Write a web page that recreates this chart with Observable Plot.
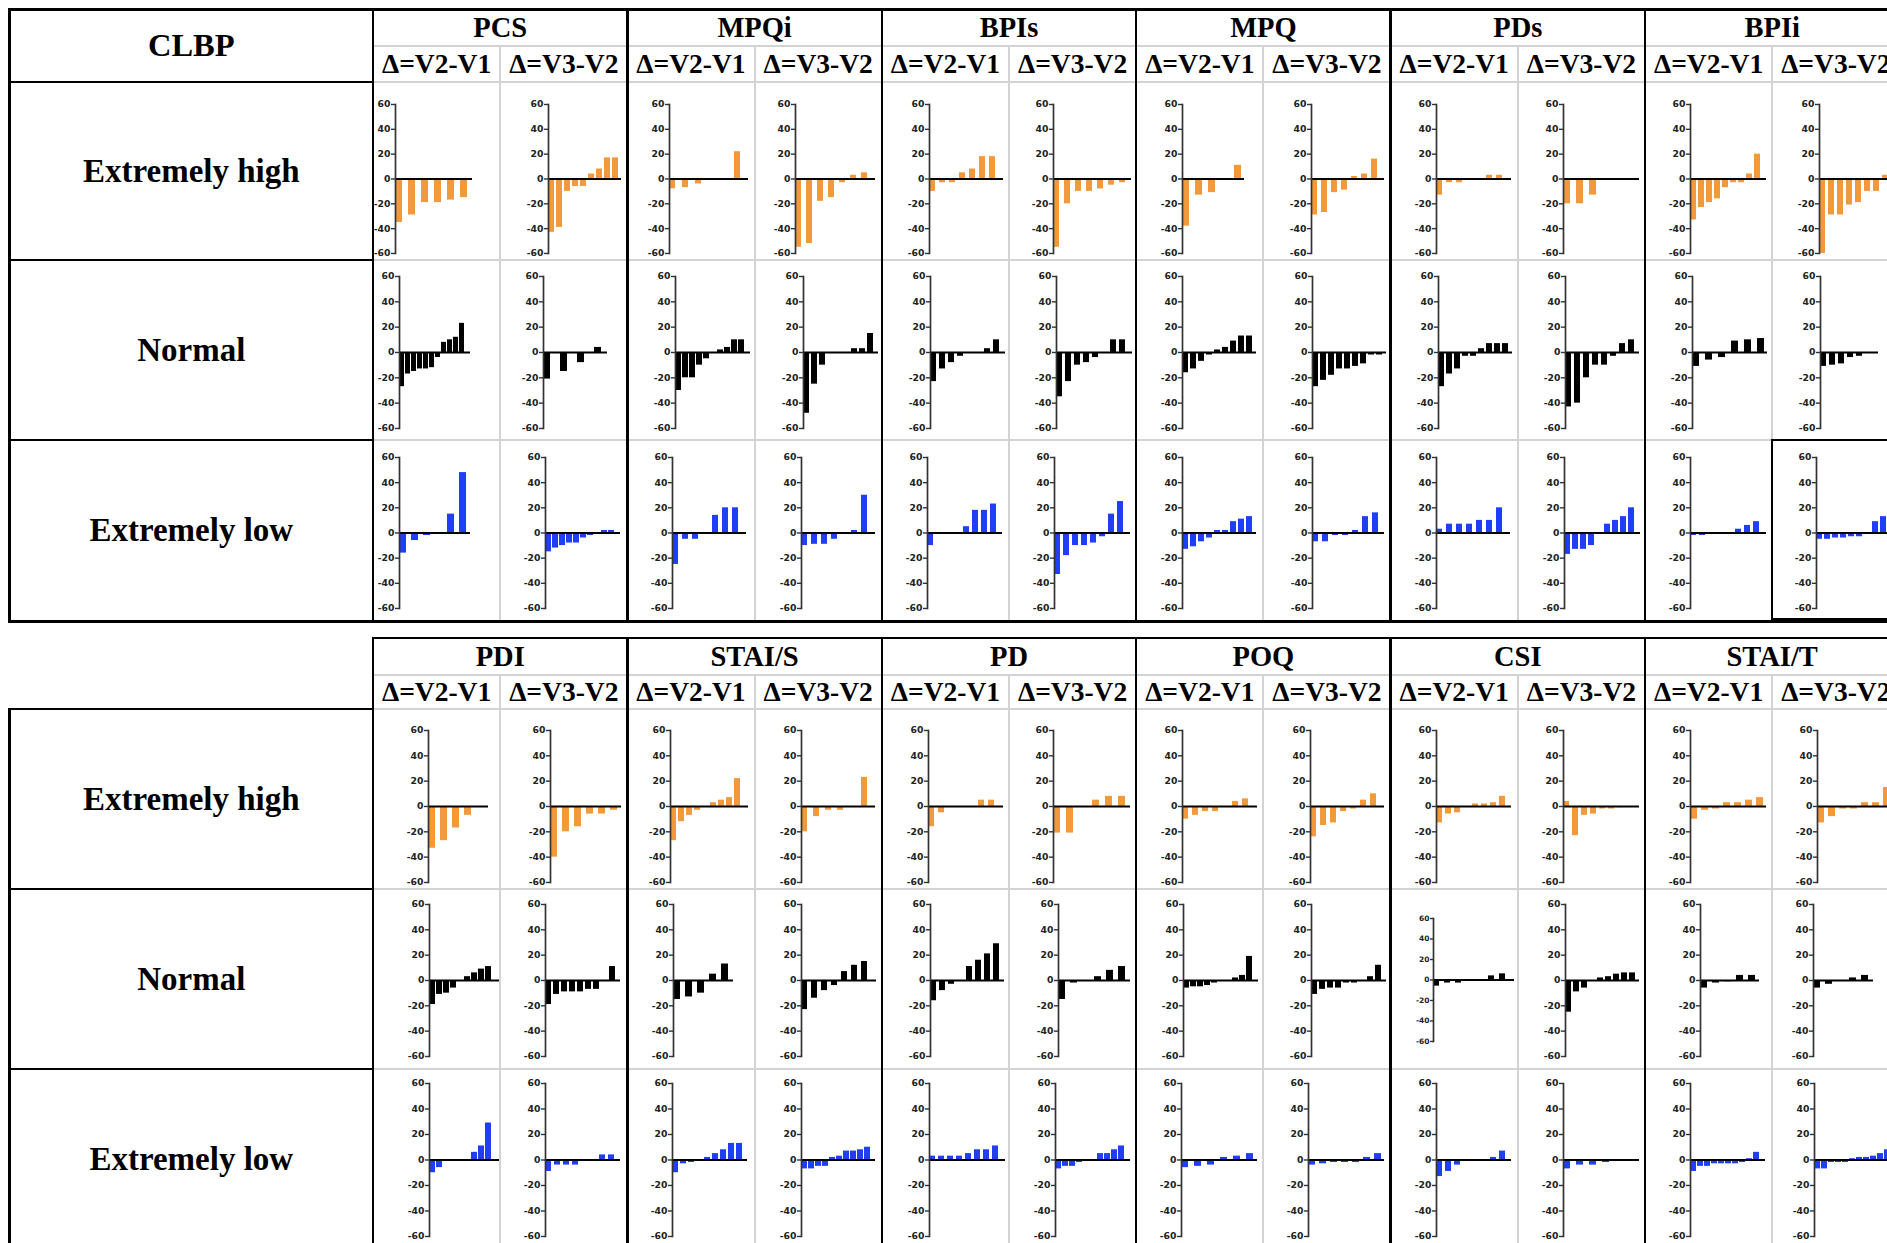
<!DOCTYPE html>
<html><head><meta charset="utf-8">
<script src="https://cdn.jsdelivr.net/npm/d3@7"></script>
<script src="https://cdn.jsdelivr.net/npm/@observablehq/plot@0.6"></script>
<style>
html,body{margin:0;padding:0;background:#fff;overflow:hidden;}
#root{position:relative;width:1887px;height:1243px;overflow:hidden;background:#fff;}
.ln{position:absolute;}
.txt{position:absolute;font-family:"Liberation Serif","Times New Roman",serif;font-weight:bold;color:#000;white-space:nowrap;display:flex;align-items:center;justify-content:center;}
.mini{position:absolute;overflow:visible;}
.mini svg{overflow:visible;}
</style></head><body><div id="root"></div>
<script>
// ---------------- DATA ----------------
const panelLabel = "CLBP";
const measuresTop = ["PCS","MPQi","BPIs","MPQ","PDs","BPIi"];
const measuresBottom = ["PDI","STAI/S","PD","POQ","CSI","STAI/T"];
const deltaLabels = ["Δ=V2-V1","Δ=V3-V2"];
const groupLabels = ["Extremely high","Normal","Extremely low"];
const groupColors = ["#F29A3B","#000000","#1F3EF6"];
const yTicks = [60,40,20,0,-20,-40,-60];

// each: [Δ=V2-V1 values, Δ=V3-V2 values]
const PCS_high   = [[-35,-29,-19,-19,-17,-15],[-43,-39,-10,-6,-6,4,8,17,17]];
const PCS_normal = [[-27,-17,-15,-13,-13,-12,-4,8,10,12,23],[-21,-15,-8,4]];
const PCS_low    = [[-16,-6,-2,0,15,48],[-15,-12,-10,-8,-8,-4,-2,0,2,2]];
const MPQi_high   = [[-8,-7,-4,0,0,22],[-55,-52,-18,-15,-3,3,5]];
const MPQi_normal = [[-30,-20,-20,-10,-5,0,2,4,10,10],[-48,-25,-10,0,0,0,3,3,15]];
const MPQi_low    = [[-25,-5,-5,0,14,20,20],[-10,-9,-9,-5,0,2,30]];
const BPIs_high   = [[-10,-3,-3,5,8,18,18],[-55,-20,-10,-10,-8,-5,-3]];
const BPIs_normal = [[-23,-13,-8,-3,0,0,3,10],[-35,-23,-10,-8,-4,0,10,10]];
const BPIs_low    = [[-10,0,0,0,5,18,18,23],[-33,-18,-10,-10,-8,-3,15,25]];
const MPQ_high   = [[-38,-13,-11,0,11],[-29,-27,-11,-9,2,4,16]];
const MPQ_normal = [[-16,-13,-7,-2,2,4,9,13,13],[-27,-22,-18,-13,-13,-11,-9,-2,-2]];
const MPQ_low    = [[-13,-11,-7,-4,2,2,9,11,13],[-7,-7,-2,-2,2,13,16]];
const PDs_high   = [[-13,-3,-3,0,0,3,3],[-20,-20,-13,0,0,0]];
const PDs_normal = [[-27,-17,-13,-3,-3,3,7,7,7],[-43,-40,-20,-10,-10,-3,7,10]];
const PDs_low    = [[3,7,7,7,10,10,20],[-17,-13,-13,-10,0,7,10,13,20]];
const BPIi_high   = [[-33,-23,-19,-16,-7,-3,-3,4,20],[-60,-29,-29,-21,-19,-10,-10,3]];
const BPIi_normal = [[-11,-6,-4,9,10,11],[-11,-10,-9,-4,-3,0]];
const BPIi_low    = [[-2,-2,0,0,0,3,6,9],[-5,-5,-4,-4,-3,-3,0,9,13]];

const PDI_high   = [[-33,-27,-17,-7,0],[-40,-20,-16,-6,-6,-3]];
const PDI_normal = [[-19,-11,-10,-6,0,3,6,9,11],[-19,-11,-9,-9,-9,-7,-7,0,11]];
const PDI_low    = [[-10,-6,0,0,0,0,6,11,29],[-9,-4,-4,-4,0,0,4,4]];
const STAIS_high   = [[-27,-12,-7,-3,0,3,5,7,22],[-20,-8,-3,-3,0,23]];
const STAIS_normal = [[-15,-13,-10,5,13],[-23,-14,-8,-4,7,12,15]];
const STAIS_low    = [[-10,-3,-2,0,2,5,8,13,13],[-7,-7,-5,-5,2,3,7,7,8,10]];
const PD_high   = [[-16,-5,0,0,0,5,5],[-21,-21,0,5,8,8]];
const PD_normal = [[-16,-8,-3,0,11,16,21,29],[-15,-2,0,3,8,11]];
const PD_low    = [[3,3,3,3,5,8,8,11],[-7,-5,-5,-2,0,0,5,5,8,11]];
const POQ_high   = [[-10,-7,-4,-4,0,4,6],[-24,-15,-13,-4,-2,5,10]];
const POQ_normal = [[-6,-5,-5,-4,-2,0,0,2,4,19],[-11,-7,-6,-6,-2,-2,0,3,12]];
const POQ_low    = [[-6,-5,-4,2,3,5],[-4,-3,-2,-2,-2,2,5]];
const CSI_high   = [[-13,-6,-5,0,2,2,3,8],[4,-23,-7,-6,-2,-2,-1,0]];
const CSI_normal = [[-6,-3,-3,-1,-1,4,6],[-25,-9,-6,0,2,3,5,6,6]];
const CSI_low    = [[-13,-9,-4,0,0,0,2,7],[-7,-4,-4,-2,0,-1]];
const STAIT_high   = [[-10,-3,-2,3,3,5,7],[-13,-8,-2,-2,3,3,15]];
const STAIT_normal = [[-6,-2,-1,4,4],[-6,-3,0,2,4]];
const STAIT_low    = [[-9,-5,-5,-3,-3,-3,-3,-2,1,6],[-7,-7,-2,-2,-2,1,2,2,3,5,8]];

const topRows = [
  [PCS_high, MPQi_high, BPIs_high, MPQ_high, PDs_high, BPIi_high],
  [PCS_normal, MPQi_normal, BPIs_normal, MPQ_normal, PDs_normal, BPIi_normal],
  [PCS_low, MPQi_low, BPIs_low, MPQ_low, PDs_low, BPIi_low]
];
const bottomRows = [
  [PDI_high, STAIS_high, PD_high, POQ_high, CSI_high, STAIT_high],
  [PDI_normal, STAIS_normal, PD_normal, POQ_normal, CSI_normal, STAIT_normal],
  [PDI_low, STAIS_low, PD_low, POQ_low, CSI_low, STAIT_low]
];

// ---------------- LAYOUT ----------------
const root = document.getElementById("root");
const X0 = 373, SUB = 127.2, LEFT = 9.6, RIGHT = 1900;
const GRAY = "#d3d3d3";

// axis offset within cell, bar-area width (per panel, row, column)
const axOff = [
  [[22,48,42,40,47,44,46,48,45,45,45,47],[26,43,48,48,48,47,46,49,47,47,47,48],[26,45,45,46,45,45,46,49,45,46,45,44]],
  [[55,50,43,46,46,44,46,47,45,45,45,45],[56,45,46,46,48,49,47,48,42,47,55,41],[56,45,45,46,47,46,45,45,45,45,45,42]]
];
const barW = [
  [[77,73,79,80,74,78,62,73,75,76,76,76],[71,64,75,75,75,76,74,74,74,74,75,58],[71,75,74,74,75,76,74,72,74,76,76,75]],
  [[60,71,78,74,75,77,75,74,75,76,76,76],[71,75,60,75,74,72,75,75,81,74,59,60],[71,75,75,74,76,75,76,76,75,76,75,78]]
];

const panels = [
  {measures: measuresTop, rows: topRows, top: 9.6, nameMid: 46, headBot: 82,
   rowTops: [82,260,440], rowH: [178,180,181], axTop: [22,16,17], axBot: [171,168,168], bottom: 621},
  {measures: measuresBottom, rows: bottomRows, top: 638, nameMid: 675, headBot: 709,
   rowTops: [709,889,1069], rowH: [180,180,180], axTop: [21,15,14], axBot: [173,167,167], bottom: 1260}
];

function line(x, y, w, h, color) {
  const d = document.createElement("div");
  d.className = "ln";
  Object.assign(d.style, {left: x + "px", top: y + "px", width: w + "px", height: h + "px", background: color});
  root.appendChild(d);
}
function text(str, x, y, w, h, size) {
  const d = document.createElement("div");
  d.className = "txt";
  Object.assign(d.style, {left: x + "px", top: y + "px", width: w + "px", height: h + "px", fontSize: size + "px"});
  d.textContent = str;
  root.appendChild(d);
}

function miniChart(values, color, x, y, w, h, ml, mr, mt, mb, small) {
  const n = values.length;
  const slot = (w - ml - mr) / n;
  const bw = Math.min(6.5, slot * 0.8);
  const pad = Math.max(0.05, 1 - bw / slot);
  const data = values.map((v, i) => ({i, v}));
  const svg = Plot.plot({
    width: w, height: h,
    marginLeft: ml, marginRight: mr, marginTop: mt, marginBottom: mb,
    style: {fontFamily: '"DejaVu Sans",Verdana,sans-serif',
            fontSize: small ? "7.5px" : "9.3px", fontWeight: "bold", color: "#222", background: "transparent", overflow: "visible"},
    x: {type: "band", domain: d3.range(n), paddingInner: pad, paddingOuter: 0.12, align: 0, axis: null},
    y: {domain: [-60, 60]},
    marks: [
      Plot.barY(data, {x: "i", y: "v", fill: color}),
      Plot.ruleY([0], {stroke: "#000", strokeWidth: 1.8}),
      Plot.frame({anchor: "left", stroke: "#333", strokeWidth: 1.7}),
      Plot.axisY({ticks: yTicks, tickFormat: d => String(d), tickSize: small ? 3 : 4, tickPadding: 1, stroke: "#333", strokeWidth: 1.4, label: null})
    ]
  });
  const div = document.createElement("div");
  div.className = "mini";
  Object.assign(div.style, {left: x + "px", top: y + "px", width: w + "px", height: h + "px"});
  div.appendChild(svg);
  root.appendChild(div);
}

panels.forEach((P, p) => {
  // charts
  P.rows.forEach((rowData, r) => {
    rowData.forEach((pair, g) => {
      pair.forEach((values, s) => {
        const c = g * 2 + s;
        const cx = X0 + c * SUB;
        const h = P.rowH[r];
        let at = P.axTop[r], ab = P.axBot[r], small = false;
        if (p === 1 && r === 1 && c === 8) { at = 29; ab = 152; small = true; }
        const ml = axOff[p][r][c];
        const mr = SUB - ml - barW[p][r][c];
        miniChart(values, groupColors[r], cx, P.rowTops[r], SUB, h, ml, mr, at, h - ab, small);
      });
    });
  });

  // gray inner grid lines (measure area)
  [P.nameMid, P.headBot, P.rowTops[1], P.rowTops[2]].forEach(y => line(X0, y - 1, RIGHT - X0, 2, GRAY));
  for (let c = 1; c < 12; c += 2) line(X0 + c * SUB - 1, P.nameMid, 2, P.bottom - P.nameMid, GRAY);
  // black group separators
  for (let g = 1; g < 6; g++) line(X0 + g * 2 * SUB - 1.2, P.top, 2.4, P.bottom - P.top, "#000");
  line(X0 - 1.2, P.top, 2.6, P.bottom - P.top, "#000");
  // top border of measure area
  line(p === 0 ? LEFT - 1.2 : X0 - 1.2, P.top - 1.2, RIGHT, 2.6, "#000");
  // left column black lines
  const leftTop = p === 0 ? P.top : P.headBot;
  line(LEFT - 1.2, leftTop - 1.2, 2.6, P.bottom - leftTop + 1.2, "#000");
  [P.headBot, P.rowTops[1], P.rowTops[2]].forEach(y => line(LEFT - 1.2, y - 1.2, X0 - LEFT + 1.2, 2.6, "#000"));

  // header texts
  P.measures.forEach((m, g) => text(m, X0 + g * 2 * SUB, P.top, 2 * SUB, P.nameMid - P.top, 28.5));
  for (let c = 0; c < 12; c++) text(deltaLabels[c % 2], X0 + c * SUB, P.nameMid, SUB, P.headBot - P.nameMid, 27.5);
  groupLabels.forEach((lab, r) => text(lab, LEFT, P.rowTops[r], X0 - LEFT, P.rowH[r], 33));
  if (p === 0) text(panelLabel, LEFT, P.top, X0 - LEFT, P.headBot - P.top, 32.5);
});
// bottom border of the top panel
line(LEFT - 1.2, 619.5, RIGHT, 3, "#000");
// highlighted cell (top panel, BPIi Δ=V3-V2, Extremely low)
(function () {
  const d = document.createElement("div");
  Object.assign(d.style, {position: "absolute", left: (X0 + 11 * SUB - 1.2) + "px", top: "439px",
    width: "200px", height: "181px", border: "2.5px solid #000", boxSizing: "border-box"});
  root.appendChild(d);
})();
</script></body></html>
